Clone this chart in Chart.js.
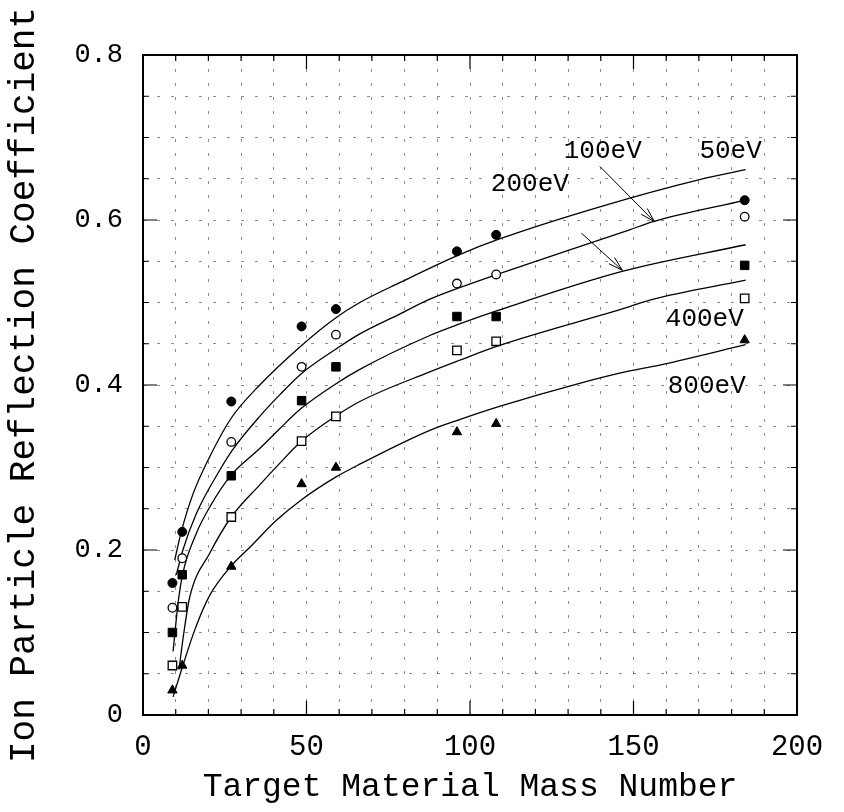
<!DOCTYPE html>
<html>
<head>
<meta charset="utf-8">
<script src="https://cdn.jsdelivr.net/npm/chart.js@4.4.1/dist/chart.umd.min.js"></script>
<style>
  html, body { margin: 0; padding: 0; background: #fff; }
</style>
</head>
<body>
<canvas id="chart" width="844" height="812"></canvas>
<script>
// measured target mass numbers (Be, C, Al, Ti, Ni, Mo, Ag, W)
const massNumbers = [9, 12, 27, 48.5, 59, 96, 108, 184];

// measured reflection coefficients, one list per ion energy
const r50  = [0.16, 0.222, 0.38, 0.471, 0.492, 0.562, 0.582, 0.624];
const r100 = [0.13, 0.19, 0.331, 0.422, 0.461, 0.523, 0.534, 0.604];
const r200 = [0.10, 0.17, 0.29, 0.381, 0.422, 0.483, 0.483, 0.545];
const r400 = [0.06, 0.131, 0.24, 0.332, 0.362, 0.442, 0.453, 0.505];
const r800 = [0.03, 0.06, 0.18, 0.28, 0.30, 0.343, 0.353, 0.4545];

// fitted curves
const fit50x  = [9.7, 11.7, 15.3, 20.4, 27, 35.7, 48.5, 58.8, 66.3, 78.5, 96.8, 109, 139.7, 170.2, 184.3];
const fit50y  = [0.188, 0.222, 0.268, 0.313, 0.36, 0.40, 0.448, 0.481, 0.50, 0.524, 0.558, 0.577, 0.616, 0.649, 0.661];
const fit100x = [10.2, 12.2, 16.3, 23.5, 27.5, 35.7, 41.8, 48.5, 58.8, 66.3, 78.5, 87.7, 96.8, 109, 148.8, 156, 184.3];
const fit100y = [0.17, 0.2, 0.244, 0.297, 0.322, 0.362, 0.388, 0.414, 0.443, 0.462, 0.486, 0.504, 0.518, 0.535, 0.588, 0.598, 0.624];
const fit200x = [9.2, 10.7, 12.2, 16.3, 20.4, 27, 35.7, 41.8, 48.5, 58.8, 66.3, 87.7, 96.8, 109, 146.8, 184.3];
const fit200y = [0.077, 0.135, 0.172, 0.22, 0.252, 0.291, 0.323, 0.347, 0.372, 0.401, 0.419, 0.46, 0.474, 0.491, 0.538, 0.57];
const fit400x = [11, 12.5, 14.3, 20.4, 27, 35.7, 41.8, 48.5, 58.8, 66.3, 87.7, 96.8, 109, 148.8, 155, 184.3];
const fit400y = [0.055, 0.1, 0.143, 0.196, 0.24, 0.279, 0.305, 0.332, 0.362, 0.38, 0.416, 0.43, 0.448, 0.495, 0.503, 0.527];
const fit800x = [9.2, 12.2, 16, 20.4, 27.5, 32.6, 40.8, 48.5, 58.8, 66.3, 87.7, 96.8, 109, 133.5, 148.8, 159, 184.3];
const fit800y = [0.022, 0.06, 0.105, 0.145, 0.183, 0.203, 0.236, 0.261, 0.288, 0.304, 0.345, 0.358, 0.374, 0.402, 0.417, 0.425, 0.449];

// curve labels and arrows (data units)
const energyLabels = ["50eV", "100eV", "200eV", "400eV", "800eV"];
const labelX = [179.7, 140.6, 118.3, 171.8, 172.4];
const labelY = [0.684, 0.684, 0.644, 0.480, 0.399];
const arrows = [
  [139.7, 0.665, 156.4, 0.598],   // 100eV
  [134.1, 0.584, 146.6, 0.539]    // 200eV
];

const monoFont = "'Liberation Mono', 'Courier New', monospace";

function pts(xs, ys) {
  return xs.map((x, i) => ({ x: x, y: ys[i] }));
}

function curve(xs, ys) {
  return {
    data: pts(xs, ys),
    showLine: true,
    borderColor: '#000',
    borderWidth: 1.3,
    pointRadius: 0,
    cubicInterpolationMode: 'monotone',
    fill: false,
    order: 2
  };
}

function marks(ys, style, filled, r) {
  return {
    data: pts(massNumbers, ys),
    showLine: false,
    pointStyle: style,
    pointRadius: r,
    pointBackgroundColor: filled ? '#000' : '#fff',
    pointBorderColor: '#000',
    pointBorderWidth: filled ? 1 : 1.3,
    order: 1
  };
}

// frame, inward ticks, curve labels, arrows
const decorations = {
  id: 'decorations',
  afterDraw(chart) {
    const ctx = chart.ctx;
    const a = chart.chartArea;
    const xs = chart.scales.x;
    const ys = chart.scales.y;
    ctx.save();
    ctx.strokeStyle = '#000';

    // tick marks pointing into the plot
    ctx.lineWidth = 1.2;
    ctx.beginPath();
    for (let v = 10; v < 200; v += 10) {
      const px = xs.getPixelForValue(v);
      const len = v % 50 === 0 ? 14 : 6;
      ctx.moveTo(px, a.bottom); ctx.lineTo(px, a.bottom - len);
      ctx.moveTo(px, a.top); ctx.lineTo(px, a.top + len);
    }
    for (let k = 5; k < 80; k += 5) {
      const py = ys.getPixelForValue(k / 100);
      const len = k % 20 === 0 ? 14 : 6;
      ctx.moveTo(a.left, py); ctx.lineTo(a.left + len, py);
      ctx.moveTo(a.right, py); ctx.lineTo(a.right - len, py);
    }
    ctx.stroke();

    ctx.lineWidth = 2;
    ctx.strokeRect(a.left, a.top, a.right - a.left, a.bottom - a.top);

    // arrows
    ctx.lineWidth = 1;
    arrows.forEach(ar => {
      const x1 = xs.getPixelForValue(ar[0]), y1 = ys.getPixelForValue(ar[1]);
      const x2 = xs.getPixelForValue(ar[2]), y2 = ys.getPixelForValue(ar[3]);
      const ang = Math.atan2(y2 - y1, x2 - x1);
      const hl = 15, ha = 0.28;
      ctx.beginPath();
      ctx.moveTo(x1, y1); ctx.lineTo(x2, y2);
      ctx.moveTo(x2 - hl * Math.cos(ang - ha), y2 - hl * Math.sin(ang - ha));
      ctx.lineTo(x2, y2);
      ctx.lineTo(x2 - hl * Math.cos(ang + ha), y2 - hl * Math.sin(ang + ha));
      ctx.stroke();
    });

    // energy labels
    ctx.fillStyle = '#000';
    ctx.font = "26px " + monoFont;
    ctx.textAlign = 'center';
    ctx.textBaseline = 'middle';
    energyLabels.forEach((t, i) => {
      ctx.fillText(t, xs.getPixelForValue(labelX[i]), ys.getPixelForValue(labelY[i]));
    });
    ctx.restore();
  }
};

const gridColor = 'rgba(0,0,0,0.45)';

new Chart(document.getElementById('chart'), {
  type: 'scatter',
  data: {
    datasets: [
      curve(fit50x, fit50y),
      curve(fit100x, fit100y),
      curve(fit200x, fit200y),
      curve(fit400x, fit400y),
      curve(fit800x, fit800y),
      marks(r50, 'circle', true, 4.5),
      marks(r100, 'circle', false, 4.3),
      marks(r200, 'rect', true, 6),
      marks(r400, 'rect', false, 6),
      marks(r800, 'triangle', true, 5.4)
    ]
  },
  options: {
    responsive: false,
    animation: false,
    devicePixelRatio: 1,
    layout: { padding: { top: 55, right: 47, left: 0, bottom: 0 } },
    plugins: {
      legend: { display: false },
      tooltip: { enabled: false }
    },
    scales: {
      x: {
        type: 'linear',
        min: 0,
        max: 200,
        afterFit(s) { s.height = 97; },
        ticks: {
          stepSize: 10,
          autoSkip: false,
          maxRotation: 0,
          padding: 15,
          color: '#000',
          font: { family: monoFont, size: 29 },
          callback: v => (v % 50 === 0 ? String(v) : '')
        },
        grid: { color: gridColor, lineWidth: 1, drawTicks: false },
        border: { display: false, dash: [3, 11] },
        title: {
          display: true,
          text: 'Target Material Mass Number',
          color: '#000',
          font: { family: monoFont, size: 33 },
          padding: { top: 0, bottom: 5 }
        }
      },
      y: {
        type: 'linear',
        min: 0,
        max: 0.8,
        afterFit(s) { s.width = 143; },
        ticks: {
          stepSize: 0.05,
          autoSkip: false,
          padding: 20,
          color: '#000',
          font: { family: monoFont, size: 27 },
          callback: v => {
            const k = Math.round(v * 100);
            if (k % 20 !== 0) return '';
            return k === 0 ? '0' : (k / 100).toFixed(1);
          }
        },
        grid: { color: gridColor, lineWidth: 1, drawTicks: false },
        border: { display: false, dash: [3, 11] },
        title: {
          display: true,
          text: 'Ion Particle Reflection Coefficient',
          color: '#000',
          font: { family: monoFont, size: 36 },
          padding: { top: 3, bottom: 0 }
        }
      }
    }
  },
  plugins: [decorations]
});
</script>
</body>
</html>
